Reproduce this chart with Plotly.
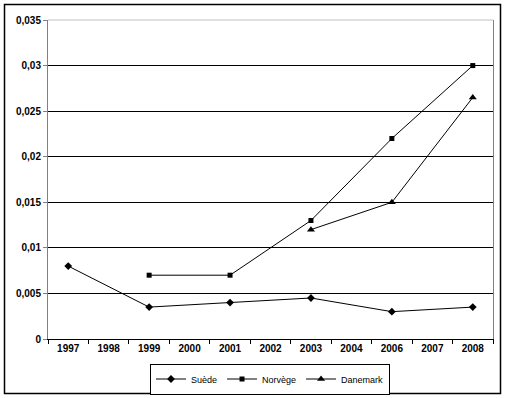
import plotly.graph_objects as go

years = ["1997", "1998", "1999", "2000", "2001", "2002", "2003", "2004", "2006", "2007", "2008"]
suede = [0.008, None, 0.0035, None, 0.004, None, 0.0045, None, 0.003, None, 0.0035]
norvege = [None, None, 0.007, None, 0.007, None, 0.013, None, 0.022, None, 0.030]
danemark = [None, None, None, None, None, None, 0.012, None, 0.015, None, 0.0265]
ytick_vals = [0, 0.005, 0.01, 0.015, 0.02, 0.025, 0.03, 0.035]
ytick_text = ["0", "0,005", "0,01", "0,015", "0,02", "0,025", "0,03", "0,035"]

fig = go.Figure()
series = [("Suède", suede, "diamond", 6), ("Norvège", norvege, "square", 5), ("Danemark", danemark, "triangle-up", 7)]
for name, vals, sym, sz in series:
    fig.add_trace(go.Scatter(
        x=years, y=vals, name=name, mode="lines+markers", connectgaps=True,
        line=dict(color="black", width=1),
        marker=dict(symbol=sym, size=sz, color="black"),
    ))

W, H = 505, 398
L, R, T, B = 48, 12, 20, 59
pw, ph = W - L - R, H - T - B

def px(x):
    return (x - L) / pw

def py(y):
    return (H - B - y) / ph

fig.update_layout(
    width=W, height=H,
    margin=dict(l=L, r=R, t=T, b=B, autoexpand=False),
    paper_bgcolor="white", plot_bgcolor="white",
    font=dict(family="Liberation Sans, Arial, sans-serif", size=10, color="black"),
    showlegend=True,
    legend=dict(
        orientation="h", x=px(270), xanchor="center", y=py(379), yanchor="middle",
        bordercolor="black", borderwidth=1, bgcolor="white",
        font=dict(size=9, family="Liberation Sans, Arial, sans-serif"),
        itemwidth=30, tracegroupgap=0,
    ),
    xaxis=dict(
        type="category", categoryorder="array", categoryarray=years,
        showgrid=False, showline=True, linecolor="black", linewidth=1,
        ticks="outside", tickson="boundaries", ticklen=4, tickcolor="black",
        tickfont=dict(family="Liberation Sans, Arial, sans-serif", size=10, weight="bold"),
        range=[-0.5, len(years) - 0.5], fixedrange=True,
    ),
    yaxis=dict(
        range=[0, 0.035], tickvals=ytick_vals, ticktext=ytick_text,
        showgrid=True, gridcolor="black", gridwidth=1,
        showline=True, linecolor="#808080", linewidth=1, mirror=True,
        ticks="outside", ticklen=4, tickcolor="#808080",
        tickfont=dict(family="Liberation Sans, Arial, sans-serif", size=10, weight="bold"),
        zeroline=False, fixedrange=True,
    ),
    shapes=[
        dict(type="line", xref="paper", yref="paper", x0=0, x1=1, y0=1, y1=1,
             line=dict(color="#c0c0c0", width=1)),
        dict(type="rect", xref="paper", yref="paper",
             x0=px(4.5), x1=px(500.5), y0=py(393.5), y1=py(4.5),
             line=dict(color="black", width=1.5), fillcolor="rgba(0,0,0,0)", layer="below"),
    ],
)

fig.write_html("out.html", config={"displayModeBar": False},
               post_script="document.body.style.margin='0';document.body.style.overflow='hidden';")
